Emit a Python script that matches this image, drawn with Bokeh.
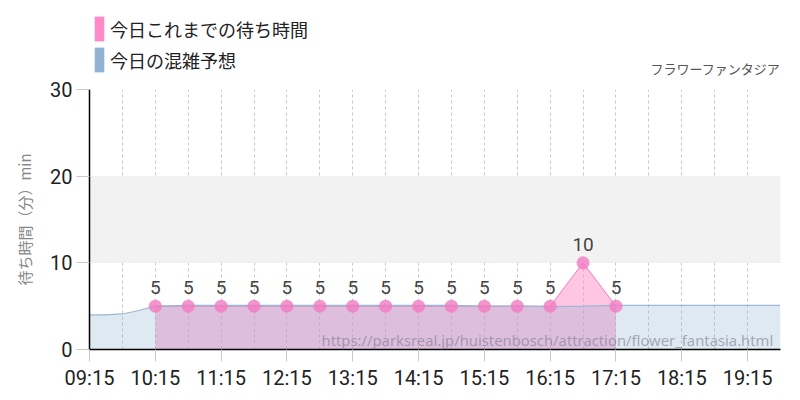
from bokeh.plotting import figure
from bokeh.layouts import column
from bokeh.models import (ColumnDataSource, FixedTicker, LabelSet, Label, Legend,
                          LegendItem, BoxAnnotation, Range1d)
from bokeh.embed import file_html
from bokeh.resources import INLINE
from bokeh.core.properties import value


def hrs(t):
    h, m = t.split(":")
    return int(h) + int(m) / 60.0


# ---- data ----
forecast_times = ["09:15", "09:30", "09:45", "10:00", "10:15", "10:45", "11:15", "11:45",
                  "12:15", "12:45", "13:15", "13:45", "14:15", "14:45", "15:15", "15:45",
                  "16:15", "16:45", "17:15", "17:45", "18:15", "18:45", "19:15", "19:45"]
forecast_waits = [4.0, 4.0, 4.1, 4.5, 5.0, 5.1, 5.1, 5.1,
                  5.1, 5.1, 5.1, 5.1, 5.1, 5.1, 5.0, 5.0,
                  4.95, 5.0, 5.1, 5.1, 5.1, 5.1, 5.1, 5.1]

actual_times = ["10:15", "10:45", "11:15", "11:45", "12:15", "12:45", "13:15", "13:45",
                "14:15", "14:45", "15:15", "15:45", "16:15", "16:45", "17:15"]
actual_waits = [5, 5, 5, 5, 5, 5, 5, 5, 5, 5, 5, 5, 5, 10, 5]

x_tick_labels = ["09:15", "10:15", "11:15", "12:15", "13:15", "14:15",
                 "15:15", "16:15", "17:15", "18:15", "19:15"]
y_ticks = [0, 10, 20, 30]
legend_labels = ["今日これまでの待ち時間", "今日の混雑予想"]
title_text = "フラワーファンタジア"
y_axis_title = "待ち時間（分）min"
watermark_text = "https://parksreal.jp/huistenbosch/attraction/flower_fantasia.html"

NUM = "Roboto"
CJK = "Noto Sans CJK JP"
W = 784
NAN = float("nan")

fx = [hrs(t) for t in forecast_times]
ax = [hrs(t) for t in actual_times]

# ---------------- header (legend + attraction name) ----------------
head = figure(width=W, height=77, output_backend="svg", toolbar_location=None,
              x_range=Range1d(0, 1), y_range=Range1d(0, 1),
              x_axis_type=None, y_axis_type=None,
              min_border_left=0, min_border_right=0, min_border_top=0, min_border_bottom=0)
head.outline_line_color = None
head.xgrid.visible = False
head.ygrid.visible = False
r1 = head.quad(left=[NAN], right=[NAN], top=[NAN], bottom=[NAN],
               fill_color="#ff8ac8", line_color=None)
r2 = head.quad(left=[NAN], right=[NAN], top=[NAN], bottom=[NAN],
               fill_color="#8fb3d0", line_color=None)
legend = Legend(items=[LegendItem(label=legend_labels[0], renderers=[r1]),
                       LegendItem(label=legend_labels[1], renderers=[r2])],
                location=(4, 2), orientation="vertical",
                glyph_width=12, glyph_height=31, label_height=31, spacing=0,
                padding=0, margin=0, label_standoff=5,
                label_text_font=CJK, label_text_font_size="18px",
                label_text_color="#222222",
                background_fill_alpha=0, border_line_color=None)
head.add_layout(legend)
head.add_layout(Label(x=691, y=0, x_units="screen", y_units="screen", text=title_text,
                      text_align="right", text_baseline="bottom", text_font=CJK,
                      text_font_size="13px", text_color="#555555"))

# ---------------- main chart ----------------
p = figure(width=W, height=315, output_backend="svg", toolbar_location=None,
           x_range=Range1d(9.25, 19.75), y_range=Range1d(0, 30),
           min_border_left=89, min_border_right=4, min_border_top=12, min_border_bottom=40)
p.outline_line_color = None
p.background_fill_color = "white"
p.border_fill_color = "white"

p.add_layout(BoxAnnotation(bottom=10, top=20, fill_color="#f2f2f2", fill_alpha=1.0,
                           line_color=None, level="underlay"))

asrc = ColumnDataSource(dict(x=ax, y=actual_waits, label=[str(v) for v in actual_waits]))
p.varea(x="x", y1=0, y2="y", source=asrc, fill_color="#ff8dc9", fill_alpha=0.5)
p.line(x="x", y="y", source=asrc, line_color="#f07ac0", line_width=1)

fsrc = ColumnDataSource(dict(x=fx, y=forecast_waits))
p.varea(x="x", y1=0, y2="y", source=fsrc, fill_color="#78a5ca", fill_alpha=0.245)
p.line(x="x", y="y", source=fsrc, line_color="#9ab8d5", line_width=1.2)

p.scatter(x="x", y="y", source=asrc, size=13, fill_color="#f27ac0", fill_alpha=0.8,
          line_color=None)
p.add_layout(LabelSet(x="x", y="y", text="label", source=asrc, y_offset=12,
                      text_align="center", text_baseline="alphabetic",
                      text_font_size="19px", text_color="#444444",
                      text_font=value(NUM)))

p.xaxis.ticker = FixedTicker(ticks=[hrs(t) for t in x_tick_labels])
p.xaxis.major_label_overrides = {hrs(t): t for t in x_tick_labels}
p.yaxis.ticker = FixedTicker(ticks=y_ticks)
for axis in (p.xaxis, p.yaxis):
    axis.minor_tick_line_color = None
    axis.axis_line_color = "black"
    axis.axis_line_width = 1.5
    axis.major_tick_in = 0
    axis.major_tick_line_color = "#c8c8c8"
    axis.major_label_text_font = NUM
    axis.major_label_text_font_size = "20px"
    axis.major_label_text_color = "#222222"
    axis.major_label_standoff = 4
p.xaxis.major_tick_out = 12
p.yaxis.major_tick_out = 13
p.yaxis.axis_label = y_axis_title
p.yaxis.axis_label_text_font = CJK
p.yaxis.axis_label_text_font_size = "15px"
p.yaxis.axis_label_text_font_style = "normal"
p.yaxis.axis_label_text_color = "#888888"
p.yaxis.axis_label_standoff = 12

p.xgrid.ticker = FixedTicker(ticks=[9.75 + 0.5 * i for i in range(21)])
p.xgrid.grid_line_color = "#c8c8c8"
p.xgrid.grid_line_dash = "3 3"
p.ygrid.ticker = FixedTicker(ticks=[10, 20, 30])
p.ygrid.grid_line_color = "#bbbbbb"
p.ygrid.grid_line_dash = "1 2"

p.add_layout(Label(x=232, y=10, x_units="screen", y_units="screen", text=watermark_text,
                   text_align="left", text_baseline="alphabetic", text_font="Noto Sans",
                   text_font_size="14.8px", text_color="#7a7a8a", text_alpha=0.6))

layout = column(head, p, spacing=0)
open("out.html", "w").write(file_html(layout, INLINE))
